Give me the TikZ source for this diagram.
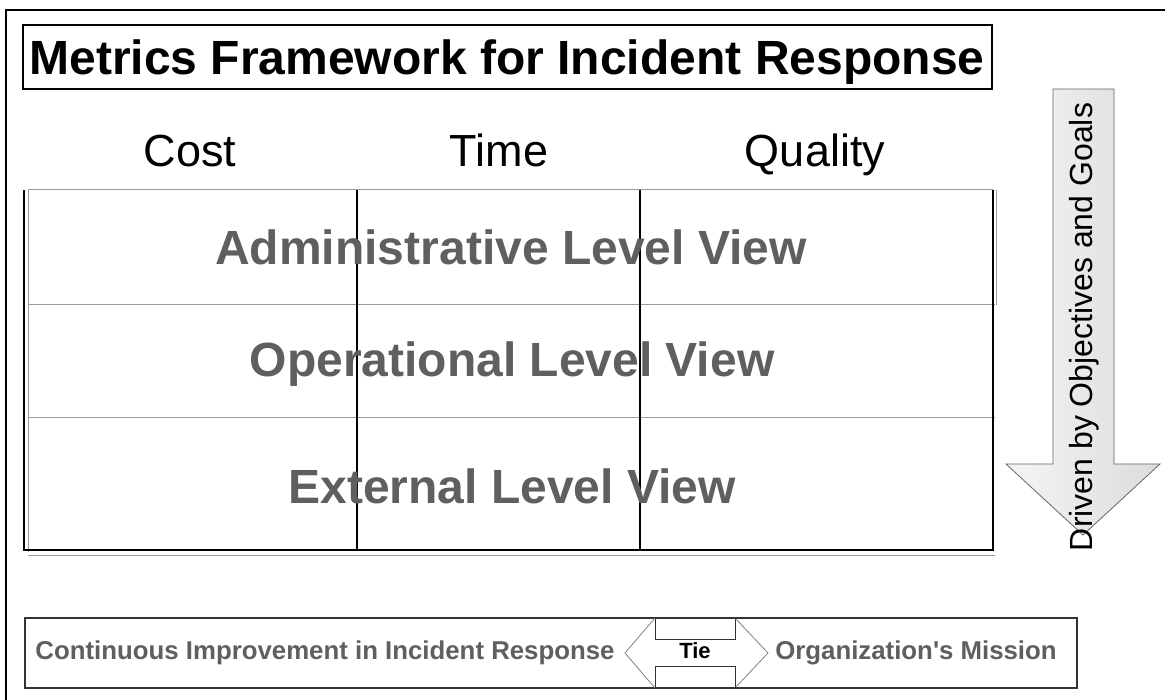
\documentclass[tikz,border=0pt]{standalone}
\usepackage{fontspec}
\setmainfont{Liberation Sans}
\usepackage{tikz}
\usetikzlibrary{arrows.meta,positioning}

\definecolor{viewgray}{HTML}{5F5F5F}
\definecolor{rulegray}{HTML}{9A9A9A}

\begin{document}
\begin{tikzpicture}[x=1pt, y=-1pt,
  colhead/.style={anchor=base, font=\fontsize{45}{50}\selectfont},
  viewlabel/.style={anchor=base, font=\fontsize{48}{54}\selectfont\bfseries, text=viewgray},
  footlabel/.style={font=\fontsize{25.8}{30}\selectfont\bfseries, text=viewgray}]
\useasboundingbox (0,0) rectangle (1165,700);
\draw[line width=1.2pt] (6,700) -- (6,10) -- (1165,10);

\draw[line width=1.5pt] (23,25) rectangle (992,89);
\node (title) at (507,75) [anchor=base, inner sep=0pt, font=\fontsize{48}{54}\selectfont\bfseries] {Metrics Framework for Incident Response};

\node (cost) at (190,167) [colhead] {Cost};
\node (time) at (499,167) [colhead] {Time};
\node (quality) at (815,167) [colhead] {Quality};

% grid of the three views
\draw[rulegray, line width=1pt] (28,190) -- (993,190);
\draw[rulegray, line width=1pt] (28,190) -- (28,552);
\draw[rulegray, line width=1pt] (28,305) -- (995,305);
\draw[rulegray, line width=1pt] (28,418) -- (995,418);
\draw[rulegray, line width=1pt] (28,555) -- (995,555);
\draw[rulegray, line width=1pt] (996,190) -- (996,305);
\draw[line width=1.6pt] (24,190) -- (24,550) -- (993,550) -- (993,190);
\draw[line width=2pt] (357,190) -- (357,550);
\draw[line width=2pt] (640,190) -- (640,550);

\node (admin) at (511,265) [viewlabel] {Administrative Level View};
\node (oper) at (512,377) [viewlabel] {Operational Level View};
\node (ext) at (512,503) [viewlabel] {External Level View};

% downward arrow on the right
\shade[left color=gray!8, right color=gray!28, draw=gray!80!black, line width=0.8pt]
  (1053,89) -- (1114,89) -- (1114,464) -- (1160,464) -- (1083,535)
  -- (1006,464) -- (1053,464) -- cycle;
\node (drive) at (1084,327) [rotate=90, font=\fontsize{32}{36}\selectfont] {Driven by Objectives and Goals};

% bottom strip
\draw[line width=1.2pt, black!80] (25,618) rectangle (1077,688);
\node (impr) at (325,653) [footlabel] {Continuous Improvement in Incident Response};
\node (mission) at (916,653) [footlabel] {Organization\textquotesingle s Mission};
\coordinate (tl) at (625,653);
\coordinate (tr) at (768,653);
\draw[gray, line width=0.8pt] (655,618) -- (tl) -- (655,688);
\draw[gray, line width=0.8pt] (735,618) -- (tr) -- (735,688);
\draw[black!80, line width=1pt] (655,618) -- (655,639) -- (735,639) -- (735,618);
\draw[black!80, line width=1pt] (655,688) -- (655,666) -- (735,666) -- (735,688);
\node (tie) at (695,651) [font=\fontsize{22}{26}\selectfont\bfseries] {Tie};
\end{tikzpicture}
\end{document}
